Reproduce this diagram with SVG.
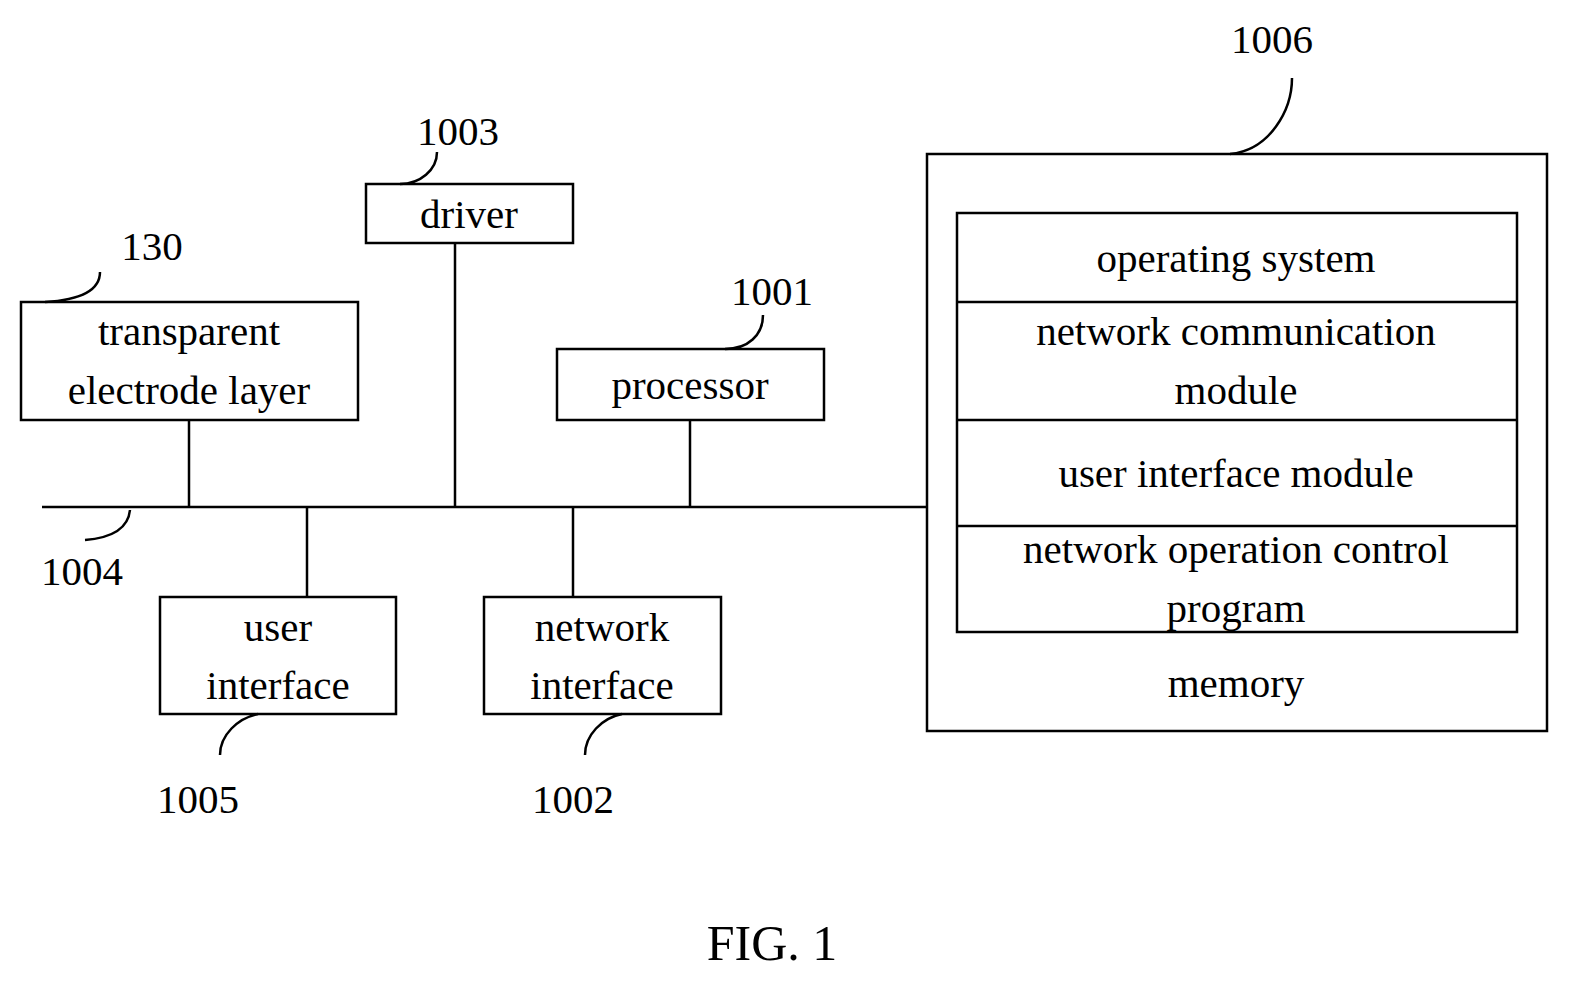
<svg xmlns="http://www.w3.org/2000/svg" width="1569" height="985" viewBox="0 0 1569 985">
<style>
rect{fill:none;stroke:#000;stroke-width:2.5}
line,path{fill:none;stroke:#000;stroke-width:2.5}
text{font-family:"Liberation Serif",serif;font-size:41px;text-anchor:middle;fill:#000}
</style>
<rect width="1569" height="985" style="fill:#fff;stroke:none"/>
<g id="connectors">
<line x1="42" y1="507" x2="927" y2="507"/>
<line x1="189" y1="420" x2="189" y2="507"/>
<line x1="455" y1="243" x2="455" y2="507"/>
<line x1="690" y1="420" x2="690" y2="507"/>
<line x1="307" y1="507" x2="307" y2="597"/>
<line x1="573" y1="507" x2="573" y2="597"/>
<path d="M1292,78 C1292,110 1270,150 1230,154"/>
<path d="M437,152 C437,170 420,184 400,184"/>
<path d="M100,272 C100,290 80,300 45,302"/>
<path d="M763,315 C763,335 748,349 725,349"/>
<path d="M130,510 C128,530 110,538 85,540"/>
<path d="M258,714 C238,718 220,735 220,755"/>
<path d="M622,714 C602,718 585,735 585,755"/>
</g>
<g id="n130"><rect x="21" y="302" width="337" height="118"/><text x="189" y="345">transparent</text><text x="189" y="404">electrode layer</text></g>
<g id="n1003"><rect x="366" y="184" width="207" height="59"/><text x="469" y="228">driver</text></g>
<g id="n1001"><rect x="557" y="349" width="267" height="71"/><text x="690" y="399">processor</text></g>
<g id="n1005"><rect x="160" y="597" width="236" height="117"/><text x="278" y="641">user</text><text x="278" y="699">interface</text></g>
<g id="n1002"><rect x="484" y="597" width="237" height="117"/><text x="602" y="641">network</text><text x="602" y="699">interface</text></g>
<g id="n1006">
<rect x="927" y="154" width="620" height="577"/>
<rect x="957" y="213" width="560" height="419"/>
<line x1="957" y1="302" x2="1517" y2="302"/>
<line x1="957" y1="420" x2="1517" y2="420"/>
<line x1="957" y1="526" x2="1517" y2="526"/>
<text x="1236" y="272">operating system</text>
<text x="1236" y="345">network communication</text>
<text x="1236" y="404">module</text>
<text x="1236" y="487">user interface module</text>
<text x="1236" y="563">network operation control</text>
<text x="1236" y="622">program</text>
<text x="1236" y="697">memory</text>
</g>
<g id="labels">
<text x="1272" y="53">1006</text>
<text x="458" y="145">1003</text>
<text x="152" y="260">130</text>
<text x="772" y="305">1001</text>
<text x="82" y="585">1004</text>
<text x="198" y="813">1005</text>
<text x="573" y="813">1002</text>
<text x="772" y="960" style="font-size:50px">FIG. 1</text>
</g>
</svg>
